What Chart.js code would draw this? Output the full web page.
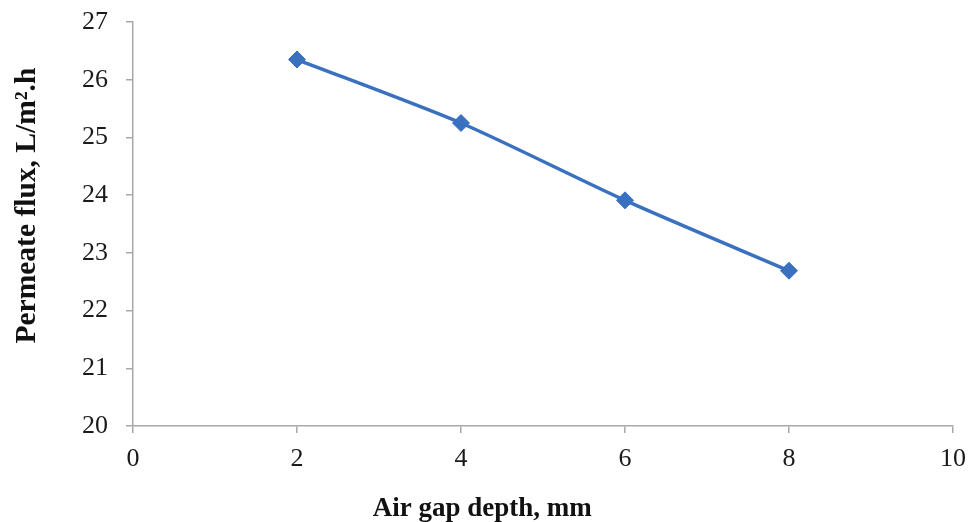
<!DOCTYPE html>
<html>
<head>
<meta charset="utf-8">
<script src="https://cdn.jsdelivr.net/npm/chart.js@4.4.1/dist/chart.umd.min.js"></script>
<style>
html,body{margin:0;padding:0;background:#fff;}
#wrap{width:969px;height:522px;}
</style>
</head>
<body>
<div id="wrap"><canvas id="c" width="969" height="522"></canvas></div>
<script>
const airGap = [2, 4, 6, 8];
const flux = [26.35, 25.25, 23.91, 22.69];
const xTicks = [0, 2, 4, 6, 8, 10];
const yTicks = [20, 21, 22, 23, 24, 25, 26, 27];

const axisColor = '#a8a8a8';
const fontFam = '"Liberation Serif", "Times New Roman", serif';
const pad = n => '\u00a0'.repeat(n);

new Chart(document.getElementById('c'), {
  type: 'line',
  data: {
    datasets: [{
      data: airGap.map((x, i) => ({x: x, y: flux[i]})),
      borderColor: '#3a70c0',
      backgroundColor: '#3a70c0',
      borderWidth: 3.5,
      pointStyle: 'rectRot',
      pointRadius: 8.5,
      pointHoverRadius: 8.5,
      pointBorderWidth: 1,
      tension: 0.25,
      fill: false
    }]
  },
  options: {
    responsive: false,
    animation: false,
    layout: {padding: {top: 22, right: 16, left: 6, bottom: 0}},
    plugins: {legend: {display: false}, tooltip: {enabled: false}},
    scales: {
      x: {
        type: 'linear',
        min: 0, max: 10,
        afterBuildTicks: s => { s.ticks = xTicks.map(v => ({value: v})); },
        afterFit: s => { s.height = 96; s.paddingLeft = 0; s.paddingRight = 0; },
        grid: {drawOnChartArea: false, drawTicks: true, tickLength: 7, color: axisColor, lineWidth: 1.5},
        border: {color: axisColor, width: 1.5},
        ticks: {color: '#1a1a1a', font: {family: fontFam, size: 26}, padding: 11, maxRotation: 0},
        title: {display: true, text: 'Air gap depth, mm' + pad(18), color: '#111', font: {family: fontFam, size: 27, weight: 'bold', lineHeight: 1}, padding: {top: 0, bottom: -1}}
      },
      y: {
        min: 20, max: 27,
        afterBuildTicks: s => { s.ticks = yTicks.map(v => ({value: v})); },
        afterFit: s => { s.width = 127; s.paddingTop = 0; s.paddingBottom = 0; },
        grid: {drawOnChartArea: false, drawTicks: true, tickLength: 7, color: axisColor, lineWidth: 1.5},
        border: {color: axisColor, width: 1.5},
        ticks: {color: '#1a1a1a', font: {family: fontFam, size: 26}, padding: 18},
        title: {display: true, text: pad(5) + 'Permeate flux, L/m².h', color: '#111', font: {family: fontFam, size: 29.5, weight: 'bold', lineHeight: 1}, padding: {top: 6.5, bottom: 0}}
      }
    }
  }
});
</script>
</body>
</html>
